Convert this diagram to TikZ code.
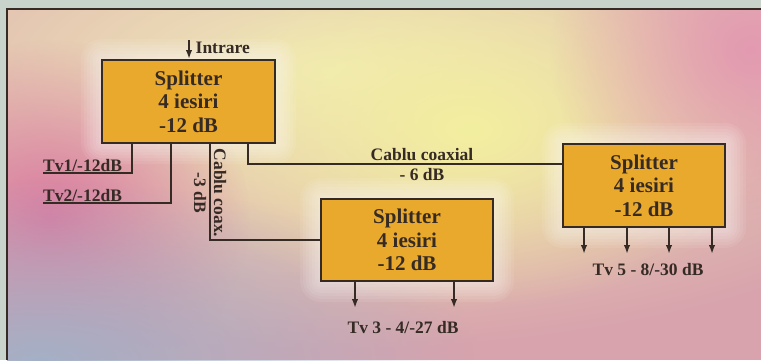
\documentclass[tikz,border=0pt]{standalone}
\usepackage{fontspec}
\setmainfont{Liberation Serif}
\usetikzlibrary{arrows.meta,fadings}

\definecolor{boxorange}{HTML}{E9A92C}
\definecolor{inkbrown}{HTML}{352A24}
\definecolor{outerbg}{HTML}{C8D3CB}
\definecolor{basebg}{HTML}{D8A3AD}
\definecolor{creamglow}{HTML}{F1EAB8}
\definecolor{yellowglow}{HTML}{F3EF9F}
\definecolor{pinkglow}{HTML}{DA7AA0}
\definecolor{blueglow}{HTML}{A4B0C6}
\definecolor{roseglow}{HTML}{E39AB0}

\tikzfading[name=softblob, inner color=transparent!0, outer color=transparent!100]

\tikzset{
  splitbox/.style={draw=inkbrown, line width=2pt, fill=boxorange,
    minimum width=#1, minimum height=83pt, inner sep=0pt, align=center,
    font=\fontsize{21}{23.5}\selectfont\bfseries, text=inkbrown},
  lbl/.style={font=\fontsize{17.5}{20}\selectfont\bfseries, text=inkbrown, inner sep=1.5pt},
  wire/.style={draw=inkbrown, line width=2pt},
  feed/.style={wire, -{Latex[length=9pt,width=6.5pt]}},
  blob/.style={fill=#1, path fading=softblob},
}

\begin{document}
\begin{tikzpicture}[x=1pt,y=-1pt]

\useasboundingbox (0,0) rectangle (761,360);

% Background
\fill[outerbg] (0,0) rectangle (761,360);
\begin{scope}
  \clip (7,9) rectangle (761,360);
  \fill[basebg] (7,9) rectangle (761,360);
  \fill[blob=creamglow]  (330,70)  ellipse (700 and 280);
  \fill[blob=yellowglow] (470,130) ellipse (300 and 180);
  \fill[blob=pinkglow]   (50,220)  ellipse (200 and 180);
  \fill[blob=blueglow]   (40,360)  ellipse (440 and 180);
  \fill[blob=roseglow]   (750,50)  ellipse (200 and 180);
\end{scope}

% Frame (left and top only)
\draw[inkbrown, line width=2pt] (7,360) -- (7,9) -- (761,9);

% Halo behind the splitters
\foreach \cx/\cy/\w/\h in {188.5/101.5/173/83, 407/240/172/82, 644/185.5/162/83}
  \foreach \g in {3,6,...,21}
    \fill[white, opacity=0.08, rounded corners=\g]
      (\cx-\w/2-\g,\cy-\h/2-\g) rectangle (\cx+\w/2+\g,\cy+\h/2+\g);

% Splitters
\node[splitbox=173pt] (spone)   at (188.5,101.5) {Splitter\\4 iesiri\\-12 dB};
\node[splitbox=172pt, minimum height=82pt] (sptwo) at (407,240) {Splitter\\4 iesiri\\-12 dB};
\node[splitbox=162pt] (spthree) at (644,185.5) {Splitter\\4 iesiri\\-12 dB};

% Input
\coordinate (in) at (189,40);
\draw[feed] (in) -- (in |- spone.north);
\node[lbl, anchor=west] (intrare) at (194,48) {Intrare};

% Direct outputs of the first splitter
\node[lbl, anchor=south west, inner xsep=0pt] (tvone) at (43,173) {Tv1/-12dB};
\node[lbl, anchor=south west, inner xsep=0pt] (tvtwo) at (43,203) {Tv2/-12dB};
\draw[wire] ([xshift=31]spone.south west) |- (tvone.south west);
\draw[wire] ([xshift=70]spone.south west) |- (tvtwo.south west);

% Short coax to the second splitter
\draw[wire] ([xshift=109]spone.south west) |- (sptwo.west);
\node[lbl, rotate=-90, align=center, font=\fontsize{17.5}{20}\selectfont\bfseries]
  (coaxshort) at (210,193) {Cablu coax.\\-3 dB};

% Long coax to the third splitter
\draw[wire] ([xshift=147]spone.south west) |- ([yshift=-21]spthree.north west);
\node[lbl, anchor=south] (coaxlong) at (422,162) {Cablu coaxial};
\node[lbl, anchor=north] (coaxloss) at (422,167) {- 6 dB};

% Outputs of the second splitter
\foreach \dx in {35,134}
  \draw[feed] ([xshift=\dx]sptwo.south west) -- ++(0,26);
\node[lbl] (tvthree) at (403,328) {Tv 3 - 4/-27 dB};

% Outputs of the third splitter
\foreach \dx in {22,65,107,150}
  \draw[feed] ([xshift=\dx]spthree.south west) -- ++(0,26);
\node[lbl] (tvfive) at (648,270) {Tv 5 - 8/-30 dB};

\end{tikzpicture}
\end{document}
